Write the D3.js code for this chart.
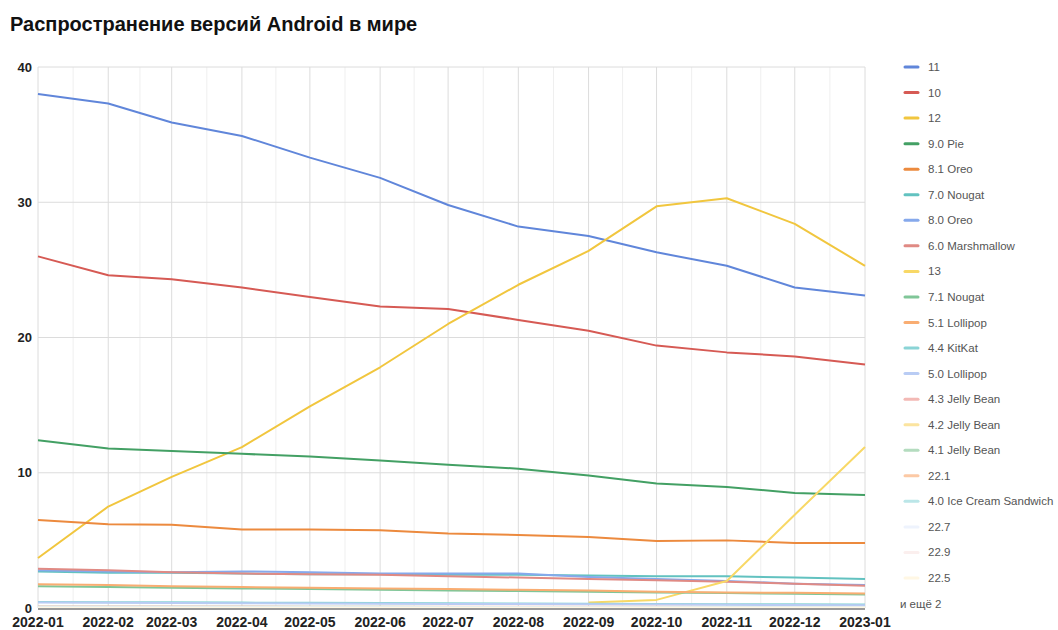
<!DOCTYPE html>
<html>
<head>
<meta charset="utf-8">
<title>Распространение версий Android в мире</title>
<script src="https://d3js.org/d3.v7.min.js"></script>
<style>
  body { margin: 0; background: #fff; }
  svg { font-family: "Liberation Sans", Arial, sans-serif; }
  .title { font-size: 20px; font-weight: bold; fill: #111; }
  .ylab { font-size: 13px; font-weight: bold; fill: #222; }
  .xlab { font-size: 14px; font-weight: bold; fill: #222; }
  .leg { font-size: 11.5px; fill: #555; }
</style>
</head>
<body>
<div id="chart"></div>
<script>
// months on the x axis
var months = ["2022-01", "2022-02", "2022-03", "2022-04", "2022-05", "2022-06", "2022-07",
              "2022-08", "2022-09", "2022-10", "2022-11", "2022-12", "2023-01"];

// series names, in legend order
var names = ["11", "10", "12", "9.0 Pie", "8.1 Oreo", "7.0 Nougat", "8.0 Oreo", "6.0 Marshmallow",
             "13", "7.1 Nougat", "5.1 Lollipop", "4.4 KitKat", "5.0 Lollipop", "4.3 Jelly Bean",
             "4.2 Jelly Bean", "4.1 Jelly Bean", "22.1", "4.0 Ice Cream Sandwich", "22.7", "22.9", "22.5"];

var colors = ["#6086da", "#d65a54", "#f1c63e", "#43a064", "#ec8a3e", "#62c2c0", "#86a9ec", "#e08a84",
              "#f8d866", "#80c698", "#f9ad72", "#8ad4d6", "#b9ccf4", "#f3b9b5", "#fbe49f", "#b4dcbf",
              "#fcc9a5", "#bbe6e8", "#eef3fd", "#fbefee", "#fff7e4"];

// share, % (null = no data)
var v11  = [38.0, 37.3, 35.9, 34.9, 33.3, 31.8, 29.8, 28.2, 27.5, 26.3, 25.3, 23.7, 23.1];
var v10  = [26.0, 24.6, 24.3, 23.7, 23.0, 22.3, 22.1, 21.3, 20.5, 19.4, 18.9, 18.6, 18.0];
var v12  = [3.7, 7.5, 9.7, 11.9, 14.9, 17.8, 21.0, 23.9, 26.4, 29.7, 30.3, 28.4, 25.3];
var v90  = [12.4, 11.8, 11.6, 11.4, 11.2, 10.9, 10.6, 10.3, 9.8, 9.2, 8.95, 8.5, 8.35];
var v81  = [6.5, 6.2, 6.15, 5.8, 5.8, 5.75, 5.5, 5.4, 5.25, 4.95, 5.0, 4.8, 4.8];
var v70  = [2.7, 2.6, 2.6, 2.55, 2.5, 2.5, 2.45, 2.45, 2.4, 2.35, 2.35, 2.25, 2.15];
var v80  = [2.8, 2.7, 2.65, 2.7, 2.65, 2.55, 2.55, 2.55, 2.3, 2.15, 2.0, 1.8, 1.7];
var v60  = [2.9, 2.8, 2.65, 2.55, 2.5, 2.45, 2.35, 2.25, 2.15, 2.05, 1.95, 1.8, 1.65];
var v13  = [null, null, null, null, null, null, null, null, 0.4, 0.6, 2.0, 6.9, 11.9];
var v71  = [1.6, 1.55, 1.5, 1.45, 1.4, 1.35, 1.3, 1.25, 1.2, 1.15, 1.1, 1.05, 1.0];
var v51  = [1.75, 1.7, 1.6, 1.55, 1.5, 1.45, 1.4, 1.35, 1.3, 1.2, 1.15, 1.12, 1.08];
var v44  = [0.45, 0.43, 0.42, 0.4, 0.38, 0.37, 0.35, 0.33, 0.32, 0.3, 0.28, 0.27, 0.25];
var v50  = [0.4, 0.38, 0.37, 0.35, 0.33, 0.32, 0.3, 0.29, 0.27, 0.25, 0.24, 0.22, 0.2];
var v43  = [0.12, 0.12, 0.11, 0.11, 0.1, 0.1, 0.1, 0.09, 0.09, 0.09, 0.08, 0.08, 0.08];
var v42  = [0.07, 0.07, 0.07, 0.06, 0.06, 0.06, 0.06, 0.06, 0.05, 0.05, 0.05, 0.05, 0.05];
var v41  = [0.1, 0.1, 0.1, 0.09, 0.09, 0.09, 0.08, 0.08, 0.08, 0.08, 0.07, 0.07, 0.07];
var v221 = [0.05, 0.05, 0.05, 0.05, 0.04, 0.04, 0.04, 0.04, 0.04, 0.04, 0.04, 0.04, 0.04];
var v40  = [0.08, 0.08, 0.08, 0.07, 0.07, 0.07, 0.07, 0.07, 0.06, 0.06, 0.06, 0.06, 0.06];
var v227 = [0.03, 0.03, 0.03, 0.03, 0.03, 0.03, 0.03, 0.03, 0.03, 0.03, 0.03, 0.03, 0.03];
var v229 = [0.02, 0.02, 0.02, 0.02, 0.02, 0.02, 0.02, 0.02, 0.02, 0.02, 0.02, 0.02, 0.02];
var v225 = [0.02, 0.02, 0.02, 0.02, 0.02, 0.02, 0.02, 0.02, 0.02, 0.02, 0.02, 0.02, 0.02];

var yTicks = [0, 10, 20, 30, 40];
var moreLabel = "и ещё 2";

var values = [v11, v10, v12, v90, v81, v70, v80, v60, v13, v71, v51, v44, v50,
              v43, v42, v41, v221, v40, v227, v229, v225];

var width = 1058, height = 630;
var margin = { top: 67, right: 193, bottom: 22, left: 38 };

var parse = d3.timeParse("%Y-%m");
var dates = months.map(parse);

var x = d3.scaleTime()
    .domain(d3.extent(dates))
    .range([margin.left, width - margin.right]);
var y = d3.scaleLinear()
    .domain([0, 40])
    .range([height - margin.bottom, margin.top]);

var svg = d3.select("#chart").append("svg")
    .attr("width", width)
    .attr("height", height);

// title
svg.append("text")
    .attr("class", "title")
    .attr("x", 10)
    .attr("y", 31)
    .text("Распространение версий Android в мире");

// minor vertical gridlines (mid-month)
var mids = d3.range(dates.length - 1).map(function(i) {
    return new Date((dates[i].getTime() + dates[i + 1].getTime()) / 2);
});
svg.append("g").selectAll("line")
    .data(mids)
    .enter().append("line")
    .attr("x1", function(d) { return x(d); })
    .attr("x2", function(d) { return x(d); })
    .attr("y1", y(40))
    .attr("y2", y(0))
    .attr("stroke", "#efefef")
    .attr("stroke-width", 1);

// major vertical gridlines
svg.append("g").selectAll("line")
    .data(dates)
    .enter().append("line")
    .attr("x1", function(d) { return x(d); })
    .attr("x2", function(d) { return x(d); })
    .attr("y1", y(40))
    .attr("y2", y(0))
    .attr("stroke", "#dcdcdc")
    .attr("stroke-width", 1);

// horizontal gridlines
svg.append("g").selectAll("line")
    .data(yTicks.slice(1))
    .enter().append("line")
    .attr("x1", x.range()[0])
    .attr("x2", x.range()[1])
    .attr("y1", function(d) { return y(d); })
    .attr("y2", function(d) { return y(d); })
    .attr("stroke", "#dcdcdc")
    .attr("stroke-width", 1);

// y labels
svg.append("g").selectAll("text")
    .data(yTicks)
    .enter().append("text")
    .attr("class", "ylab")
    .attr("x", 32)
    .attr("y", function(d) { return y(d); })
    .attr("dy", "0.35em")
    .attr("text-anchor", "end")
    .text(function(d) { return d; });

// x labels
svg.append("g").selectAll("text")
    .data(dates)
    .enter().append("text")
    .attr("class", "xlab")
    .attr("x", function(d) { return x(d); })
    .attr("y", 627)
    .attr("text-anchor", "middle")
    .text(function(d, i) { return months[i]; });

// lines
var line = d3.line()
    .defined(function(d) { return d != null; })
    .x(function(d, i) { return x(dates[i]); })
    .y(function(d) { return y(d); });

svg.append("g").selectAll("path")
    .data(values)
    .enter().append("path")
    .attr("d", line)
    .attr("fill", "none")
    .attr("stroke", function(d, i) { return colors[i]; })
    .attr("stroke-width", 2)
    .attr("stroke-linejoin", "round");

// baseline
svg.append("line")
    .attr("x1", x.range()[0])
    .attr("x2", x.range()[1])
    .attr("y1", y(0) + 1)
    .attr("y2", y(0) + 1)
    .attr("stroke", "#9a9a9a")
    .attr("stroke-width", 2);

// legend
var legY = d3.scaleLinear().domain([0, 1]).range([67, 92.55]);
var leg = svg.append("g").selectAll("g")
    .data(names)
    .enter().append("g")
    .attr("transform", function(d, i) { return "translate(905," + legY(i) + ")"; });
leg.append("line")
    .attr("x1", 0).attr("x2", 13)
    .attr("stroke", function(d, i) { return colors[i]; })
    .attr("stroke-width", 3)
    .attr("stroke-linecap", "round");
leg.append("text")
    .attr("class", "leg")
    .attr("x", 23)
    .attr("dy", "0.35em")
    .text(function(d) { return d; });

svg.append("text")
    .attr("class", "leg")
    .attr("x", 900)
    .attr("y", legY(names.length))
    .attr("dy", "0.35em")
    .text(moreLabel);
</script>
</body>
</html>
